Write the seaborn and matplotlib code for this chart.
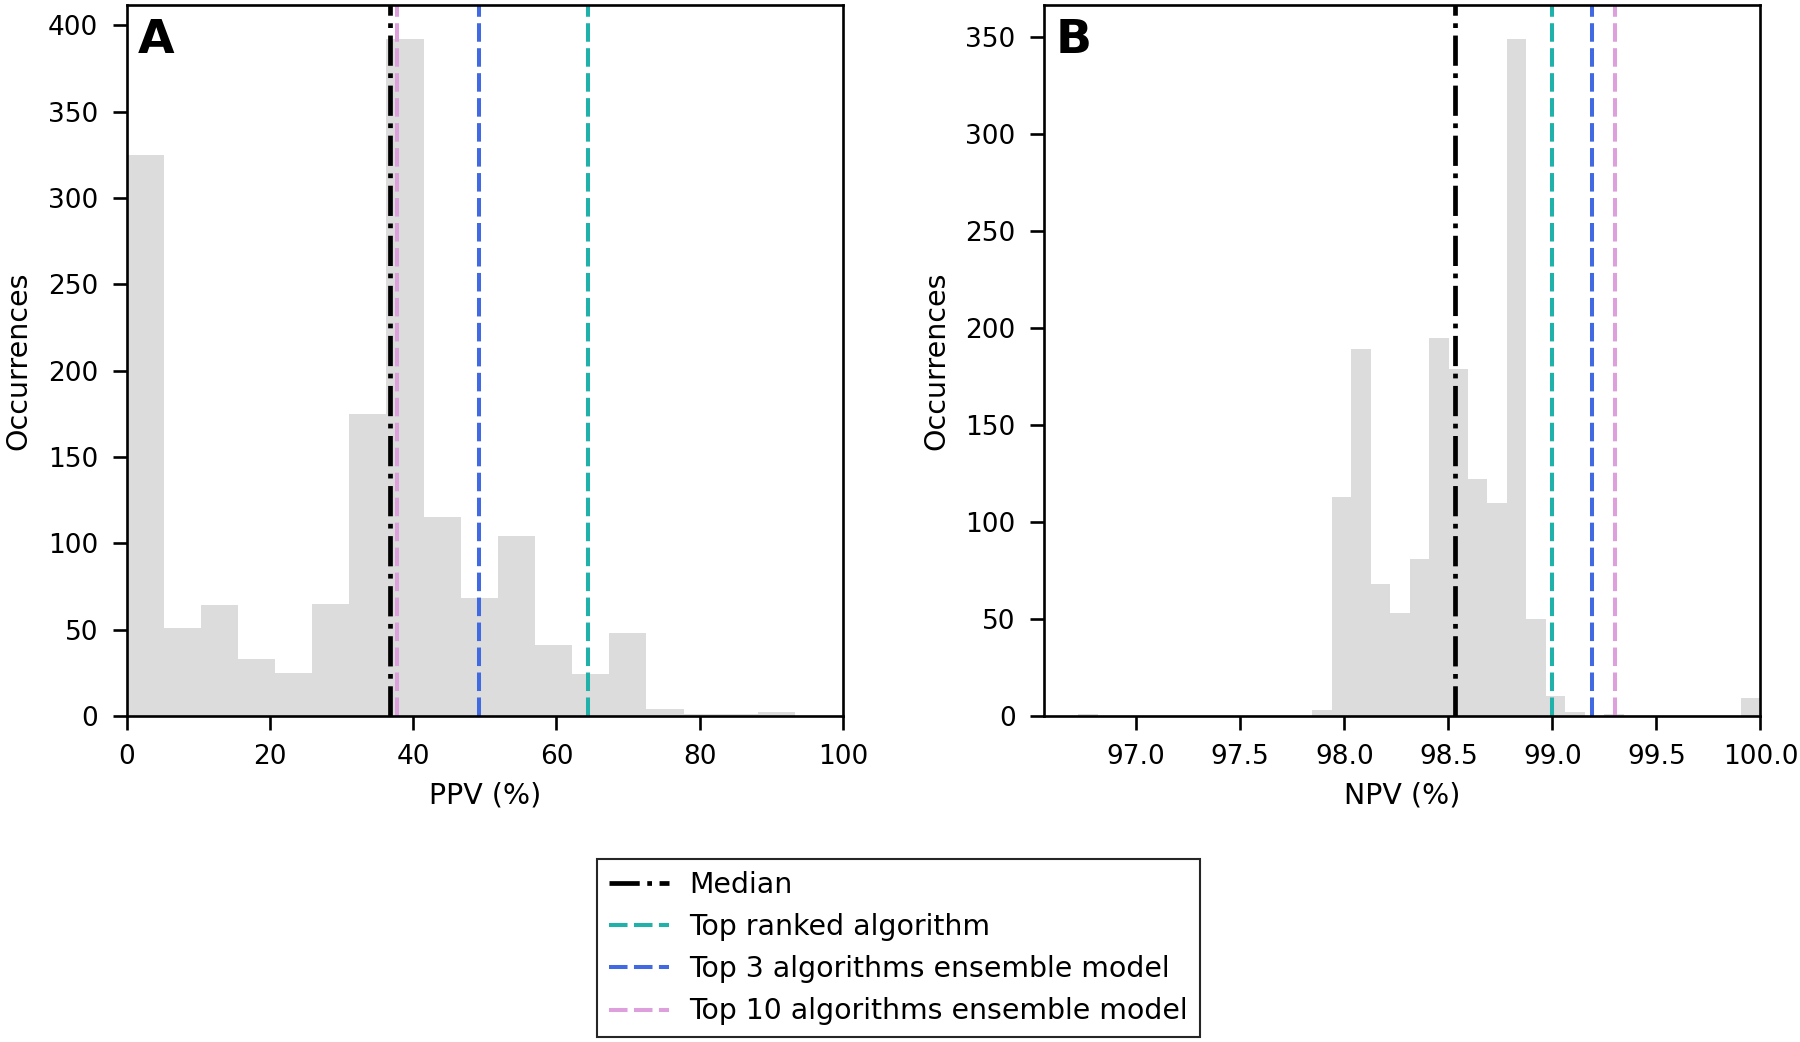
import numpy as np
import pandas as pd
import matplotlib
matplotlib.use('Agg')
import matplotlib.pyplot as plt
import seaborn as sns

# PPV histogram (panel A): 18 bins between 0 and ~93.3
ppv_min, ppv_max = 0.0, 93.3
ppv_counts = [325, 51, 64, 33, 25, 65, 175, 392, 115, 68, 104, 41, 24, 48, 4, 1, 1, 2]
ppv_lines = {'median': 36.8, 'top1': 64.4, 'top3': 49.2, 'top10': 37.8}

# NPV histogram (panel B): 35 bins between ~96.72 and 100
npv_min, npv_max = 96.721, 100.0
npv_counts = [1, 0, 0, 0, 0, 0, 0, 0, 0, 0, 0, 0, 3, 113, 189, 68, 53, 81, 195, 179,
              122, 110, 349, 50, 10, 2, 0, 1, 0, 0, 0, 0, 0, 0, 9]
npv_lines = {'median': 98.53, 'top1': 99.0, 'top3': 99.19, 'top10': 99.30}

line_labels = {'median': 'Median',
               'top1': 'Top ranked algorithm',
               'top3': 'Top 3 algorithms ensemble model',
               'top10': 'Top 10 algorithms ensemble model'}
line_colors = {'median': 'black', 'top1': '#20B2AA', 'top3': '#4169E1', 'top10': '#DDA0DD'}

sns.set_style('ticks')
plt.rcParams['font.family'] = ['DejaVu Sans']
plt.rcParams['font.size'] = 19
plt.rcParams['axes.linewidth'] = 1.9
plt.rcParams['text.color'] = 'black'
plt.rcParams['axes.labelcolor'] = 'black'
plt.rcParams['xtick.color'] = 'black'
plt.rcParams['ytick.color'] = 'black'

fig = plt.figure(figsize=(18, 10.42), dpi=100)
ax1 = fig.add_axes([0.0703, 0.313, 0.398, 0.682])
ax2 = fig.add_axes([0.5800, 0.313, 0.398, 0.682])


def draw_panel(ax, counts, lo, hi, lines, xlabel, letter):
    edges = np.linspace(lo, hi, len(counts) + 1)
    df = pd.DataFrame({'value': (edges[:-1] + edges[1:]) / 2, 'count': counts})
    sns.histplot(data=df, x='value', weights='count', bins=list(edges),
                 color='#DCDCDC', alpha=1, linewidth=0, ax=ax)
    for key in ['median', 'top1', 'top3', 'top10']:
        if key == 'median':
            ax.axvline(lines[key], color=line_colors[key], lw=3.4, ls='-.',
                       label=line_labels[key])
        else:
            ax.axvline(lines[key], color=line_colors[key], lw=2.9,
                       ls=(0, (4.6, 1.6)), label=line_labels[key])
    ax.set_xlabel(xlabel, fontsize=20.5, labelpad=8)
    ax.set_ylabel('Occurrences', fontsize=20.5, labelpad=11)
    ax.tick_params(axis='both', labelsize=19, length=10, width=1.9, pad=10.5,
                   color='black', labelcolor='black')
    for s in ax.spines.values():
        s.set_color('black')
    ax.text(0.016, 0.982, letter, transform=ax.transAxes, ha='left', va='top',
            fontsize=34, fontweight='bold', color='black')


draw_panel(ax1, ppv_counts, ppv_min, ppv_max, ppv_lines, 'PPV (%)', 'A')
ax1.set_xlim(0, 100)
ax1.set_xticks([0, 20, 40, 60, 80, 100])

draw_panel(ax2, npv_counts, npv_min, npv_max, npv_lines, 'NPV (%)', 'B')
ax2.set_xlim(96.557, 100)
ax2.set_xticks([97.0, 97.5, 98.0, 98.5, 99.0, 99.5, 100.0])
ax2.set_xticklabels(['97.0', '97.5', '98.0', '98.5', '99.0', '99.5', '100.0'])

handles, labels = ax1.get_legend_handles_labels()
leg = fig.legend(handles, labels, loc='upper center', bbox_to_anchor=(0.499, 0.1756),
                 borderaxespad=0, fontsize=20.4, frameon=True, fancybox=False,
                 framealpha=1, handlelength=2.15, handletextpad=0.7,
                 borderpad=0.42, labelspacing=0.5)
leg.get_frame().set_edgecolor('0.15')
leg.get_frame().set_linewidth(1.5)

fig.savefig('out.png', dpi=100)
